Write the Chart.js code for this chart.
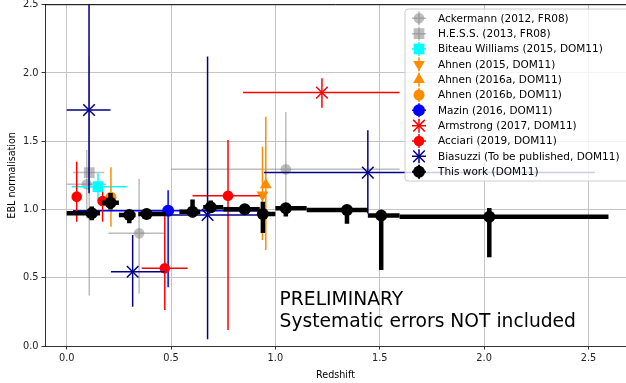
<!DOCTYPE html>
<html lang="en">
<head>
<meta charset="UTF-8">
<title>EBL normalisation vs redshift</title>
<script src="https://cdn.jsdelivr.net/npm/chart.js@4.4.1/dist/chart.umd.min.js"></script>
<style>
  html, body { margin: 0; padding: 0; background: #fff; }
  #wrap { width: 626px; height: 383px; }
</style>
</head>
<body>
<div id="wrap"><canvas id="myChart" width="626" height="383"></canvas></div>
<script>
// one row per point: [redshift, z err low, z err high, EBL norm, norm err low, norm err high]
const ackermann = [
    [0.096, 0.096, 0.094, 1.185, 0.25, 0.25],
    [0.347, 0.147, 0.123, 0.825, 0.44, 0.40],
    [1.05, 0.55, 0.545, 1.294, 0.30, 0.42]
];
const hess = [
    [0.108, 0.078, 0.072, 1.27, 0.90, 0.85]
];
const biteauWilliams = [
    [0.15, 0.126, 0.137, 1.167, 0.097, 0.098]
];
const ahnen2015 = [
    [0.938, 0, 0, 1.106, 0.33, 0.354]
];
const ahnen2016a = [
    [0.954, 0, 0, 1.18, 0.477, 0.50]
];
const ahnen2016b = [
    [0.212, 0, 0, 1.09, 0.216, 0.22]
];
const mazin = [
    [0.486, 0.456, 0.44, 0.991, 0.56, 0.15]
];
const armstrong = [
    [1.223, 0.378, 0.372, 1.856, 0.11, 0.105]
];
const acciari = [
    [0.048, 0, 0, 1.094, 0.184, 0.256],
    [0.172, 0, 0, 1.062, 0.152, 0.068],
    [0.47, 0.111, 0.109, 0.569, 0.305, 0.39],
    [0.773, 0.17, 0.152, 1.101, 0.984, 0.408]
];
const biasuzzi = [
    [0.107, 0.107, 0.103, 1.729, 0.61, 0.80],
    [0.316, 0.104, 0.154, 0.544, 0.256, 0.269],
    [0.675, 0.205, 0.25, 0.96, 0.91, 1.16],
    [1.443, 0.498, 1.087, 1.27, 0.30, 0.31]
];
const thisWork = [
    [0.12, 0.12, 0.04, 0.972, 0.05, 0.05],
    [0.21, 0.04, 0.04, 1.05, 0.05, 0.07],
    [0.30, 0.05, 0.03, 0.96, 0.06, 0.03],
    [0.383, 0.04, 0.09, 0.967, 0.03, 0.03],
    [0.603, 0.063, 0.037, 0.984, 0.04, 0.09],
    [0.69, 0.036, 0.06, 1.016, 0.04, 0.05],
    [0.853, 0.103, 0.072, 1.001, 0.04, 0.04],
    [0.94, 0.015, 0.06, 0.967, 0.14, 0.09],
    [1.05, 0.05, 0.10, 1.009, 0.06, 0.036],
    [1.343, 0.193, 0.10, 0.996, 0.10, 0.03],
    [1.507, 0.064, 0.088, 0.955, 0.398, 0.03],
    [2.025, 0.43, 0.571, 0.947, 0.297, 0.063]
];

const xTicks = [0, 0.5, 1, 1.5, 2, 2.5];
const yTicks = [0, 0.5, 1, 1.5, 2, 2.5];
const noteLines = ['PRELIMINARY', 'Systematic errors NOT included'];
const noteAt = [1.02, 0.14];   // data coords of the last line's baseline

const FONT = 'DejaVu Sans';
const GRAY = 'rgba(128,128,128,0.52)';

// label, points and how each one looks (same order as the matplotlib plot)
const series = [
    { label: 'Ackermann (2012, FR08)', rows: ackermann, color: GRAY, style: 'circle', r: 5.3, lw: 1.5 },
    { label: 'H.E.S.S. (2013, FR08)', rows: hess, color: GRAY, style: 'rect', r: 7.6, lw: 1.5 },
    { label: 'Biteau Williams (2015, DOM11)', rows: biteauWilliams, color: '#00ffff', style: 'rect', r: 7.6, lw: 1.5 },
    { label: 'Ahnen (2015, DOM11)', rows: ahnen2015, color: '#ff8c00', style: 'triangle', r: 6.8, rot: 180, lw: 1.5 },
    { label: 'Ahnen (2016a, DOM11)', rows: ahnen2016a, color: '#ff8c00', style: 'triangle', r: 6.8, lw: 1.5 },
    { label: 'Ahnen (2016b, DOM11)', rows: ahnen2016b, color: '#ff8c00', style: 'circle', r: 5.5, lw: 1.5 },
    { label: 'Mazin (2016, DOM11)', rows: mazin, color: '#0000ff', style: 'circle', r: 6, lw: 1.5 },
    { label: 'Armstrong (2017, DOM11)', rows: armstrong, color: '#ff0000', style: 'crossRot', r: 8.2, lw: 1.5 },
    { label: 'Acciari (2019, DOM11)', rows: acciari, color: '#ff0000', style: 'circle', r: 5.3, lw: 1.5 },
    { label: 'Biasuzzi (To be published, DOM11)', rows: biasuzzi, color: '#00008b', style: 'crossRot', r: 8.2, lw: 1.5 },
    { label: 'This work (DOM11)', rows: thisWork, color: '#000000', style: 'circle', r: 6, lw: 4.5 }
];

const datasets = series.map((s, i) => ({
    label: s.label,
    data: s.rows.map(r => ({ x: r[0], y: r[3] })),
    errRows: s.rows,
    errColor: s.color,
    errWidth: s.lw,
    pointStyle: s.style,
    pointRadius: s.r,
    pointHoverRadius: s.r,
    pointRotation: s.rot || 0,
    backgroundColor: s.color,
    borderColor: s.color,
    borderWidth: s.style === 'crossRot' ? 1.5 : 0,
    order: series.length - i   // later series on top, like matplotlib
}));

// errorbars are drawn just before each series' markers
const errorBars = {
    id: 'errorBars',
    beforeDatasetDraw(chart, args) {
        const ds = chart.data.datasets[args.index];
        if (!ds.errRows) return;
        const { ctx, chartArea: a, scales: { x, y } } = chart;
        ctx.save();
        ctx.beginPath();
        ctx.rect(a.left, a.top, a.right - a.left, a.bottom - a.top);
        ctx.clip();
        ctx.strokeStyle = ds.errColor;
        ctx.lineWidth = ds.errWidth;
        ctx.lineCap = 'butt';
        ds.errRows.forEach(r => {
            const px = x.getPixelForValue(r[0]);
            const py = y.getPixelForValue(r[3]);
            ctx.beginPath();
            if (r[1] || r[2]) {
                ctx.moveTo(x.getPixelForValue(r[0] - r[1]), py);
                ctx.lineTo(x.getPixelForValue(r[0] + r[2]), py);
            }
            if (r[4] || r[5]) {
                ctx.moveTo(px, y.getPixelForValue(r[3] - r[4]));
                ctx.lineTo(px, y.getPixelForValue(r[3] + r[5]));
            }
            ctx.stroke();
        });
        ctx.restore();
    }
};

function drawMarker(ctx, s, x, y) {
    const r = s.r;
    ctx.fillStyle = s.color;
    ctx.strokeStyle = s.color;
    ctx.beginPath();
    if (s.style === 'circle') {
        ctx.arc(x, y, r, 0, Math.PI * 2);
        ctx.fill();
    } else if (s.style === 'rect') {
        const h = r / Math.SQRT2;
        ctx.fillRect(x - h, y - h, 2 * h, 2 * h);
    } else if (s.style === 'triangle') {
        let rad = (s.rot || 0) * Math.PI / 180;
        ctx.moveTo(x + Math.sin(rad) * r, y - Math.cos(rad) * r);
        rad += 2 * Math.PI / 3;
        ctx.lineTo(x + Math.sin(rad) * r, y - Math.cos(rad) * r);
        rad += 2 * Math.PI / 3;
        ctx.lineTo(x + Math.sin(rad) * r, y - Math.cos(rad) * r);
        ctx.closePath();
        ctx.fill();
    } else if (s.style === 'crossRot') {
        const o = Math.cos(Math.PI / 4) * r;
        ctx.lineWidth = 1.5;
        ctx.moveTo(x - o, y - o); ctx.lineTo(x + o, y + o);
        ctx.moveTo(x + o, y - o); ctx.lineTo(x - o, y + o);
        ctx.stroke();
    }
}

// top spine, note text and the legend box
const decorations = {
    id: 'decorations',
    afterDraw(chart) {
        const { ctx, chartArea: a, scales: { x, y } } = chart;
        ctx.save();
        ctx.strokeStyle = '#000';
        ctx.lineWidth = 1;
        ctx.beginPath();
        ctx.moveTo(a.left, a.top);
        ctx.lineTo(a.right, a.top);
        ctx.stroke();

        // PRELIMINARY note
        ctx.fillStyle = '#000';
        ctx.font = '18.7px "' + FONT + '"';
        ctx.textAlign = 'left';
        ctx.textBaseline = 'alphabetic';
        const nx = x.getPixelForValue(noteAt[0]);
        const ny = y.getPixelForValue(noteAt[1]);
        noteLines.forEach((t, i) => {
            ctx.fillText(t, nx, ny - (noteLines.length - 1 - i) * 22);
        });

        // legend
        const bx = 405, by = 9, bw = 224, bh = 172, rad = 3;
        ctx.beginPath();
        ctx.moveTo(bx + rad, by);
        ctx.lineTo(bx + bw - rad, by);
        ctx.arcTo(bx + bw, by, bx + bw, by + rad, rad);
        ctx.lineTo(bx + bw, by + bh - rad);
        ctx.arcTo(bx + bw, by + bh, bx + bw - rad, by + bh, rad);
        ctx.lineTo(bx + rad, by + bh);
        ctx.arcTo(bx, by + bh, bx, by + bh - rad, rad);
        ctx.lineTo(bx, by + rad);
        ctx.arcTo(bx, by, bx + rad, by, rad);
        ctx.closePath();
        ctx.fillStyle = 'rgba(255,255,255,0.8)';
        ctx.fill();
        ctx.strokeStyle = '#cccccc';
        ctx.lineWidth = 1;
        ctx.stroke();

        ctx.font = '10.5px "' + FONT + '"';
        ctx.textBaseline = 'middle';
        series.forEach((s, i) => {
            const my = 18.3 + i * 15.34;
            const mx = 419;
            ctx.strokeStyle = s.color;
            ctx.lineWidth = s.lw > 2 ? 2 : s.lw;
            ctx.beginPath();
            ctx.moveTo(mx, my - 7); ctx.lineTo(mx, my + 7);
            if (s.rows.some(r => r[1] || r[2])) {
                ctx.moveTo(mx - 7, my); ctx.lineTo(mx + 7, my);
            }
            ctx.stroke();
            drawMarker(ctx, s, mx, my);
            ctx.fillStyle = '#000';
            ctx.fillText(s.label, 438, my + 0.5);
        });
        ctx.restore();
    }
};

Chart.defaults.font.family = FONT;
Chart.defaults.color = '#222';

const myChart = new Chart(document.getElementById('myChart'), {
    type: 'scatter',
    data: { datasets },
    options: {
        responsive: false,
        animation: false,
        devicePixelRatio: 1,
        layout: { autoPadding: false, padding: { top: 4.7, right: 0, bottom: 0, left: 0 } },
        plugins: {
            legend: { display: false },
            tooltip: { enabled: false }
        },
        scales: {
            x: {
                type: 'linear',
                min: -0.104,
                max: 2.68,
                afterBuildTicks: s => { s.ticks = xTicks.map(v => ({ value: v })); },
                afterFit: s => { s.height = 37; s.paddingLeft = 0; s.paddingRight = 0; },
                ticks: { font: { size: 9.8 }, padding: 3, callback: v => v.toFixed(1) },
                grid: { color: '#c4c4c4', lineWidth: 1, tickLength: 3.5, tickColor: '#333' },
                border: { color: '#333', width: 1 },
                title: { display: true, text: 'Redshift', font: { size: 9.6 }, color: '#000', padding: { top: 0, bottom: 2 } }
            },
            y: {
                type: 'linear',
                min: 0,
                max: 2.5,
                afterBuildTicks: s => { s.ticks = yTicks.map(v => ({ value: v })); },
                afterFit: s => { s.width = 45; s.paddingTop = 0; s.paddingBottom = 0; },
                ticks: { font: { size: 9.8 }, padding: 3, callback: v => v.toFixed(1) },
                grid: { color: '#c4c4c4', lineWidth: 1, tickLength: 3.5, tickColor: '#333' },
                border: { color: '#333', width: 1 },
                title: { display: true, text: 'EBL normalisation', font: { size: 9.6 }, color: '#000', padding: { top: 6.4, bottom: 0 } }
            }
        }
    },
    plugins: [errorBars, decorations]
});
</script>
</body>
</html>
